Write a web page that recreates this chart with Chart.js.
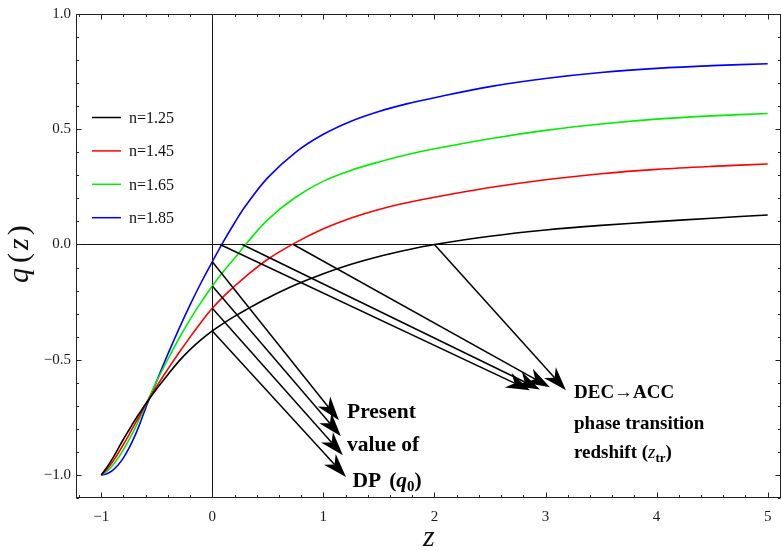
<!DOCTYPE html>
<html><head><meta charset="utf-8">
<script src="https://cdn.jsdelivr.net/npm/chart.js@4.4.0/dist/chart.umd.min.js"></script>
<style>html,body{margin:0;padding:0;background:#fff}#wrap{width:782px;height:551px}</style>
</head><body><div id="wrap"><canvas id="c" width="782" height="551"></canvas></div>
<script>
// ---- data ----
const zValues = [-1.0,-0.95,-0.9,-0.85,-0.8,-0.75,-0.7,-0.65,-0.6,-0.5,-0.4,-0.3,-0.2,-0.1,0.0,0.1,0.2,0.3,0.5,0.75,1.0,1.25,1.5,1.75,2.0,2.5,3.0,3.5,4.0,4.5,5.0];
const qN125 = [-1.000,-0.968,-0.930,-0.888,-0.845,-0.805,-0.765,-0.728,-0.692,-0.626,-0.565,-0.506,-0.456,-0.413,-0.375,-0.342,-0.312,-0.284,-0.232,-0.175,-0.127,-0.086,-0.052,-0.024,0.000,0.036,0.063,0.083,0.099,0.114,0.128];
const qN145 = [-1.000,-0.976,-0.945,-0.908,-0.868,-0.826,-0.782,-0.739,-0.695,-0.615,-0.541,-0.470,-0.402,-0.337,-0.277,-0.226,-0.181,-0.139,-0.064,0.008,0.068,0.115,0.152,0.181,0.205,0.247,0.281,0.307,0.326,0.339,0.349];
const qN165 = [-1.000,-0.985,-0.960,-0.928,-0.890,-0.847,-0.802,-0.751,-0.697,-0.593,-0.498,-0.408,-0.325,-0.250,-0.180,-0.117,-0.060,0.000,0.108,0.205,0.275,0.322,0.358,0.389,0.415,0.459,0.495,0.523,0.544,0.558,0.568];
const qN185 = [-1.000,-0.995,-0.981,-0.958,-0.926,-0.884,-0.834,-0.775,-0.710,-0.592,-0.476,-0.366,-0.262,-0.165,-0.075,0.012,0.093,0.168,0.290,0.400,0.478,0.535,0.577,0.610,0.637,0.685,0.720,0.746,0.764,0.776,0.784];
const seriesLabels = ['n=1.25','n=1.45','n=1.65','n=1.85'];
const seriesColors = ['#000000','#ff0000','#00ee00','#0000ff'];
const seriesValues = [qN125,qN145,qN165,qN185];
const xTickValues = [-1,0,1,2,3,4,5];
const yTickValues = [-1.0,-0.5,0.0,0.5,1.0];
// annotation arrows (data coordinates)
const transitionZ = [2.0,0.73,0.27,0.07];               // z_tr per series (start of arrows on q=0)
const q0TipZ = [1.204,1.176,1.158,1.14];                 // arrow tips for q0 arrows
const q0TipQ = [-1.009,-0.914,-0.832,-0.763];
const trTipZ = [3.184,3.04,2.95,2.86];                   // arrow tips for z_tr arrows
const trTipQ = [-0.633,-0.62,-0.629,-0.633];

const SERIF = '"Liberation Serif","Times New Roman",serif';
const fmtNum = (v,d)=>{const s=Math.abs(v).toFixed(d);return (v<0?'\u2212':'')+s;};

function drawArrow(ctx,x1,y1,x2,y2){
  const dx=x2-x1, dy=y2-y1, len=Math.hypot(dx,dy), ux=dx/len, uy=dy/len, nx=-uy, ny=ux;
  const L=24, W=8, N=7;
  ctx.beginPath(); ctx.moveTo(x1,y1); ctx.lineTo(x2-ux*(L-N),y2-uy*(L-N)); ctx.stroke();
  const bx=x2-ux*L, by=y2-uy*L;
  ctx.beginPath();
  ctx.moveTo(x2,y2);
  ctx.lineTo(bx+nx*W,by+ny*W);
  ctx.lineTo(x2-ux*(L-N),y2-uy*(L-N));
  ctx.lineTo(bx-nx*W,by-ny*W);
  ctx.closePath(); ctx.fill();
}

function runs(ctx,x,y,parts){
  for(const p of parts){
    ctx.font=p.f; const dy=p.dy||0;
    ctx.fillText(p.t,x,y+dy); x+=ctx.measureText(p.t).width+(p.sp||0);
  }
}

const decor = {
  id:'decor',
  beforeDatasetsDraw(chart){
    const {ctx,chartArea:a,scales:{x,y}}=chart;
    ctx.save(); ctx.strokeStyle='#111'; ctx.lineWidth=1;
    const y0=Math.round(y.getPixelForValue(0))+0.5, x0=Math.round(x.getPixelForValue(0))+0.5;
    ctx.beginPath(); ctx.moveTo(a.left,y0); ctx.lineTo(a.right,y0); ctx.moveTo(x0,a.top); ctx.lineTo(x0,a.bottom); ctx.stroke();
    ctx.restore();
  },
  afterDatasetsDraw(chart){
    const {ctx,chartArea:a,scales:{x,y}}=chart;
    ctx.save();
    // arrows
    ctx.strokeStyle='#000'; ctx.fillStyle='#000'; ctx.lineWidth=1.5;
    const i0 = zValues.indexOf(0);
    for(let i=0;i<4;i++){
      drawArrow(ctx,x.getPixelForValue(0),y.getPixelForValue(seriesValues[i][i0]),x.getPixelForValue(q0TipZ[i]),y.getPixelForValue(q0TipQ[i]));
      drawArrow(ctx,x.getPixelForValue(transitionZ[i]),y.getPixelForValue(0),x.getPixelForValue(trTipZ[i]),y.getPixelForValue(trTipQ[i]));
    }
    // frame + ticks
    ctx.strokeStyle='#222'; ctx.lineWidth=1;
    const L=Math.round(a.left)+0.5,R=Math.round(a.right)-0.5,T=Math.round(a.top)+0.5,B=Math.round(a.bottom)-0.5;
    ctx.strokeRect(L,T,R-L,B-T);
    ctx.beginPath();
    for(let k=-6;k<=25;k++){
      const v=k/5, px=Math.round(x.getPixelForValue(v))+0.5; if(px<L||px>R) continue;
      const len = (k%5===0)?5:2.5;
      ctx.moveTo(px,B); ctx.lineTo(px,B-len); ctx.moveTo(px,T); ctx.lineTo(px,T+len);
    }
    for(let k=-11;k<=10;k++){
      const v=k/10, py=Math.round(y.getPixelForValue(v))+0.5; if(py<T-1||py>B+1) continue;
      const len = (k%5===0)?5:2.5;
      ctx.moveTo(L,py); ctx.lineTo(L+len,py); ctx.moveTo(R,py); ctx.lineTo(R-len,py);
    }
    ctx.stroke();
    // legend
    ctx.lineWidth=1.5; ctx.textBaseline='middle'; ctx.font='16px '+SERIF; ctx.fillStyle='#111';
    for(let i=0;i<4;i++){
      const ly=a.top+103.5+i*33.4;
      ctx.strokeStyle=seriesColors[i]; ctx.beginPath(); ctx.moveTo(a.left+16,ly); ctx.lineTo(a.left+45,ly); ctx.stroke();
      ctx.fillText(seriesLabels[i],a.left+53,ly+1);
    }
    // annotation texts
    ctx.fillStyle='#000'; ctx.textBaseline='alphabetic';
    const B21='bold 21.5px '+SERIF, BI21='bold italic 21.5px '+SERIF, B15='bold 15px '+SERIF;
    runs(ctx,347,417.5,[{t:'Present',f:B21}]);
    runs(ctx,347,451,[{t:'value of',f:B21}]);
    runs(ctx,352.5,486.5,[{t:'DP',f:B21,sp:8},{t:'(',f:B21},{t:'q',f:BI21},{t:'0',f:B15,dy:4},{t:')',f:B21}]);
    const B19='bold 19px '+SERIF, I19='italic 19px '+SERIF, B13='bold 13px '+SERIF;
    runs(ctx,574,398,[{t:'DEC\u2192ACC',f:B19}]);
    runs(ctx,574,428.5,[{t:'phase transition',f:B19}]);
    runs(ctx,574,458,[{t:'redshift (',f:B19},{t:'z',f:I19},{t:'tr',f:B13,dy:4},{t:')',f:B19}]);
    // axis titles
    ctx.fillStyle='#111';
    ctx.font='italic 30px '+SERIF; ctx.textAlign='center'; ctx.fillText('z',x.getPixelForValue(1.95),546);
    ctx.save(); ctx.translate(28,250); ctx.rotate(-Math.PI/2); ctx.textAlign='left';
    runs(ctx,-33,0,[{t:'q',f:'italic 30px '+SERIF,sp:5},{t:'(',f:'30px '+SERIF,sp:3},{t:'z',f:'italic 30px '+SERIF,sp:3},{t:')',f:'30px '+SERIF}]);
    ctx.restore();
    ctx.restore();
  }
};

new Chart(document.getElementById('c'),{
  type:'line',
  data:{datasets:seriesValues.map((s,i)=>({
    label:seriesLabels[i], data:zValues.map((z,j)=>({x:z,y:s[j]})),
    borderColor:seriesColors[i], borderWidth:1.6, pointRadius:0, fill:false, tension:0.35
  }))},
  options:{
    responsive:false, animation:false, devicePixelRatio:1,
    layout:{padding:{left:0,right:1,top:12,bottom:0}},
    plugins:{legend:{display:false},tooltip:{enabled:false}},
    scales:{
      x:{type:'linear',min:-1.227,max:5.12,
        afterFit(s){s.height=53;},
        afterBuildTicks(s){s.ticks=xTickValues.map(v=>({value:v}));},
        ticks:{font:{family:SERIF,size:15},color:'#1a1a1a',padding:10,maxRotation:0,autoSkip:false,callback:v=>fmtNum(v,0)},
        grid:{display:false,drawTicks:false},border:{display:false}},
      y:{type:'linear',min:-1.1,max:1.0,
        afterFit(s){s.width=76;},
        afterBuildTicks(s){s.ticks=yTickValues.map(v=>({value:v}));},
        ticks:{font:{family:SERIF,size:15},color:'#1a1a1a',padding:5,autoSkip:false,callback:v=>fmtNum(v,1)},
        grid:{display:false,drawTicks:false},border:{display:false}}
    }
  },
  plugins:[decor]
});
</script></body></html>
